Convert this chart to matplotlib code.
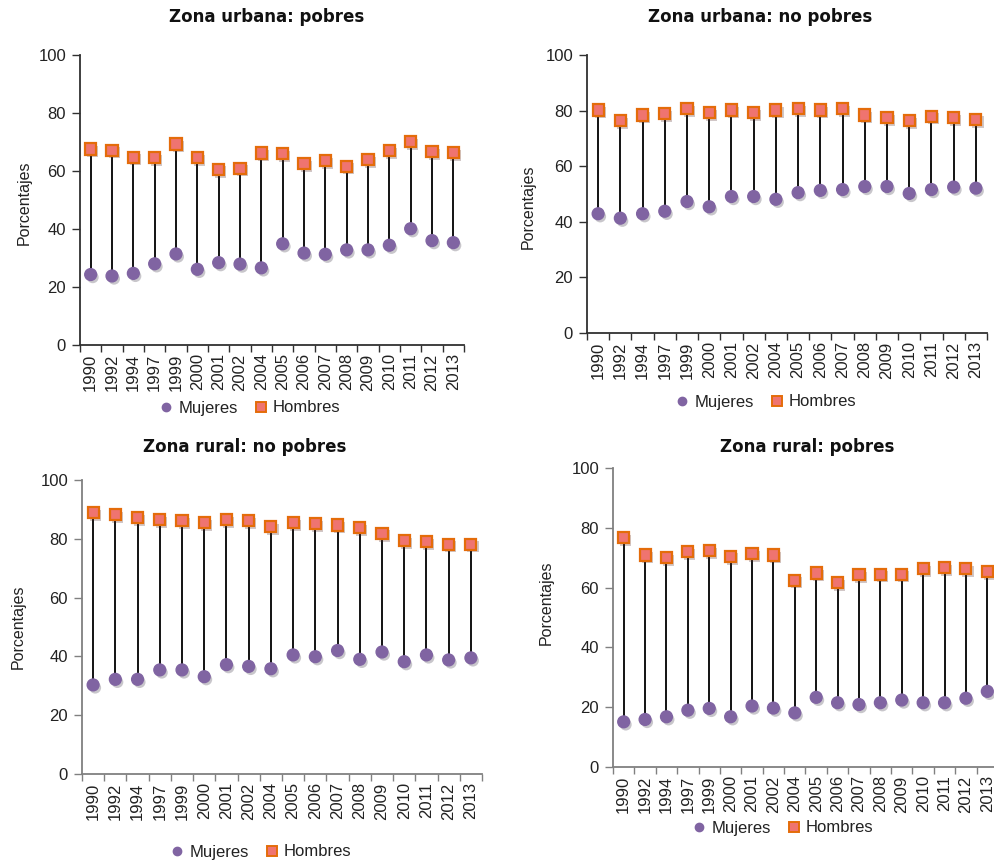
import matplotlib
matplotlib.use("Agg")
import matplotlib.pyplot as plt
import matplotlib.patheffects as pe
from matplotlib.lines import Line2D
import numpy as np

years = ["1990", "1992", "1994", "1997", "1999", "2000", "2001", "2002", "2004",
         "2005", "2006", "2007", "2008", "2009", "2010", "2011", "2012", "2013"]

titles = ["Zona urbana: pobres", "Zona urbana: no pobres",
          "Zona rural: no pobres", "Zona rural: pobres"]

urb_pob_muj = [24.3, 23.8, 24.7, 28.0, 31.4, 26.1, 28.4, 27.9, 26.6,
               34.9, 31.7, 31.3, 32.8, 32.8, 34.4, 40.1, 36.0, 35.3]
urb_pob_hom = [67.6, 67.2, 64.8, 64.7, 69.3, 64.7, 60.6, 61.0, 66.2,
               65.9, 62.6, 63.6, 61.7, 63.9, 67.1, 70.1, 66.7, 66.3]

urb_nopob_muj = [42.9, 41.3, 42.9, 43.8, 47.3, 45.4, 49.1, 49.1, 48.1,
                 50.5, 51.3, 51.6, 52.7, 52.7, 50.2, 51.6, 52.5, 52.1]
urb_nopob_hom = [80.2, 76.4, 78.4, 78.8, 80.7, 79.3, 80.2, 79.3, 80.2,
                 80.7, 80.2, 80.7, 78.4, 77.5, 76.4, 78.0, 77.5, 76.9]

rur_nopob_muj = [30.3, 32.2, 32.2, 35.4, 35.4, 33.1, 37.2, 36.6, 35.8,
                 40.5, 39.9, 42.0, 39.0, 41.5, 38.2, 40.5, 38.8, 39.5]
rur_nopob_hom = [88.9, 88.3, 87.2, 86.6, 86.1, 85.5, 86.6, 86.1, 84.1,
                 85.6, 85.1, 84.7, 83.8, 81.9, 79.4, 79.0, 78.2, 78.2]

rur_pob_muj = [15.1, 15.9, 16.8, 19.0, 19.6, 16.8, 20.4, 19.7, 18.1,
               23.3, 21.5, 20.9, 21.5, 22.4, 21.5, 21.5, 23.0, 25.3]
rur_pob_hom = [76.8, 70.9, 70.0, 72.0, 72.3, 70.5, 71.4, 70.9, 62.5,
               64.9, 61.7, 64.3, 64.5, 64.5, 66.3, 66.7, 66.3, 65.4]

series = [(urb_pob_muj, urb_pob_hom), (urb_nopob_muj, urb_nopob_hom),
          (rur_nopob_muj, rur_nopob_hom), (rur_pob_muj, rur_pob_hom)]

W, H = 995, 860
fig = plt.figure(figsize=(W / 100, H / 100), dpi=100)

# axes boxes in pixels: left, right, top, bottom
boxes = [(80, 464, 55, 345), (587, 987, 55, 333),
         (82, 482, 480, 774), (613, 998, 468, 767)]
title_pos = [(267, 17), (760, 17), (245, 447), (807, 447)]
ylabel_pos = [(24, 203), (528, 207), (18, 627), (546, 603)]
legend_pos = [(250, 408), (766, 402), (261, 852), (783, 828)]
spine_cols = ["#303030", "#303030", "#808080", "#808080"]

muj_col = "#8064A2"
hom_face = "#EF7470"
hom_edge = "#E46C0A"
tfont = "Liberation Sans"

shadow = [pe.SimplePatchShadow(offset=(1.5, -2), alpha=0.25), pe.Normal()]

for i in range(4):
    l, r, t, b = boxes[i]
    ax = fig.add_axes([l / W, 1 - b / H, (r - l) / W, (b - t) / H])
    muj, hom = series[i]
    x = np.arange(len(years))
    ax.vlines(x, muj, hom, color="black", lw=1.3, zorder=2)
    ax.plot(x, muj, linestyle="none", marker="o", ms=8.5, color=muj_col,
            mec=muj_col, zorder=3, path_effects=shadow)
    ax.plot(x, hom, linestyle="none", marker="s", ms=8, mfc=hom_face,
            mec=hom_edge, mew=1.6, zorder=4, path_effects=shadow)
    ax.set_xlim(-0.5, len(years) - 0.5)
    ax.set_ylim(0, 100)
    ax.set_yticks(range(0, 101, 20))
    ax.set_xticks(x)
    ax.set_xticklabels(years, rotation=90, fontfamily=tfont, fontsize=12,
                       color="#222222")
    ax.set_xticks(np.arange(-0.5, len(years), 1.0), minor=True)
    ax.tick_params(axis="x", which="major", length=0, pad=6)
    ax.tick_params(axis="x", which="minor", length=5, direction="out",
                   color=spine_cols[i], width=1)
    ax.tick_params(axis="y", length=6, direction="out", color=spine_cols[i],
                   width=1, pad=4)
    for lab in ax.get_yticklabels():
        lab.set_fontfamily(tfont)
        lab.set_fontsize(12)
        lab.set_color("#222222")
    for s in ["top", "right"]:
        ax.spines[s].set_visible(False)
    for s in ["left", "bottom"]:
        ax.spines[s].set_color(spine_cols[i])
        ax.spines[s].set_linewidth(1.3)
    ax.patch.set_alpha(0)

    tx, ty = title_pos[i]
    fig.text(tx / W, 1 - ty / H, titles[i], ha="center", va="center",
             fontsize=12, fontweight="bold", fontfamily="DejaVu Sans",
             color="#111111")
    yx, yy = ylabel_pos[i]
    fig.text(yx / W, 1 - yy / H, "Porcentajes", rotation=90, ha="center",
             va="center", fontsize=11.5, fontfamily=tfont, color="#222222")

    handles = [Line2D([], [], linestyle="none", marker="o", ms=6,
                      color=muj_col),
               Line2D([], [], linestyle="none", marker="s", ms=6.5,
                      mfc=hom_face, mec=hom_edge, mew=1.4)]
    lx, ly = legend_pos[i]
    fig.legend(handles, ["Mujeres", "Hombres"], loc="center",
               bbox_to_anchor=(lx / W, 1 - ly / H), ncol=2, frameon=False,
               prop={"family": tfont, "size": 12}, handlelength=0.8,
               handletextpad=0.3, columnspacing=1.0, borderpad=0,
               labelcolor="#222222")

fig.savefig("out.png", dpi=100)
